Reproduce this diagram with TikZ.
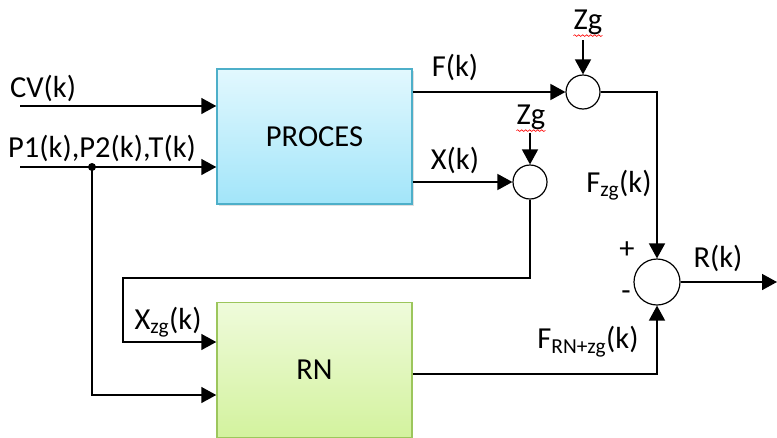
\documentclass[tikz,border=0pt]{standalone}
\usepackage{fontspec}
\setmainfont{Carlito}
\usetikzlibrary{arrows.meta, positioning, shadows, decorations.pathmorphing}

\definecolor{procTop}{HTML}{E2F8FE}
\definecolor{procBot}{HTML}{A2E5F9}
\definecolor{procLine}{HTML}{4DAFC9}
\definecolor{rnTop}{HTML}{EFFBDB}
\definecolor{rnBot}{HTML}{D3F29E}
\definecolor{rnLine}{HTML}{9CC65C}

\begin{document}
\begin{tikzpicture}[
  x=1pt, y=-1pt,
  font=\fontsize{30.5}{36}\selectfont,
  blok/.style={rectangle, line width=1.5pt, minimum width=195pt,
               minimum height=135pt, inner sep=0pt},
  sumnode/.style={circle, draw=black, line width=1.2pt, fill=white,
                  minimum size=34pt, inner sep=0pt},
  arr/.style={-{Triangle[length=15pt, width=16pt]}, line width=1.6pt, black},
  lbl/.style={inner sep=0pt},
  squig/.style={red, line width=0.6pt,
                decorate, decoration={snake, amplitude=0.9pt, segment length=4pt}}
]
\clip (0,0) rectangle (777,437);
%% Blocks
\node[blok, draw=procLine, top color=procTop, bottom color=procBot,
      drop shadow={opacity=0.25, shadow xshift=2pt, shadow yshift=-2pt}]
      (proc) at (314.5,136.5) {PROCES};
\node[blok, draw=rnLine, top color=rnTop, bottom color=rnBot]
      (rn) at (314.5,370) {RN};
%% Summing junctions
\node[sumnode] (s1) at (583,92) {};
\node[sumnode] (s2) at (530,182) {};
\node[sumnode, minimum size=46pt] (s3) at (657,282) {};
%% Free ends
\coordinate (cvin) at (20,106);
\coordinate (pin) at (20,167);
\coordinate (tap) at (92,167);
\coordinate (zg1) at (583,40);
\coordinate (zg2) at (530,133);
\coordinate (rout) at (777,282);
%% Inputs to PROCES
\draw[arr] (cvin) -- (cvin -| proc.west);
\draw[arr] (pin) -- (pin -| proc.west);
\fill (tap) circle (4pt);
\draw[arr] (tap) |- ([yshift=-25pt]rn.west);
%% PROCES outputs
\draw[arr] (s1 -| proc.east) -- (s1);
\draw[arr] (s2 -| proc.east) -- (s2);
\draw[arr] (zg1) -- (s1);
\draw[arr] (zg2) -- (s2);
%% Feedback of X to RN
\draw[arr] (s2.south) |- (123,278) |- ([yshift=28pt]rn.west);
%% To the last junction
\draw[arr] (s1.east) -| (s3.north);
\draw[arr] ([yshift=-4pt]rn.east) -| (s3.south);
\draw[arr] (s3.east) -- (rout);
%% Labels
\node[lbl, anchor=west] (lcv) at (10,88) {CV(k)};
\node[lbl, anchor=west] (lp) at (8,148) {P1(k),P2(k),T(k)};
\node[lbl] (lf) at (455,67) {F(k)};
\node[lbl] (lx) at (455,160) {X(k)};
\node[lbl] (lz1) at (588,22) {Zg};
\node[lbl] (lz2) at (531,117) {Zg};
\node[lbl] (lfzg) at (619,185) {F\textsubscript{zg}(k)};
\node[lbl] (lxzg) at (168,322) {X\textsubscript{zg}(k)};
\node[lbl] (lfrn) at (588,342) {F\textsubscript{RN+zg}(k)};
\node[lbl] (lr) at (718,258) {R(k)};
\node[lbl] (lplus) at (627,250) {+};
\node[lbl] (lmin) at (626,296) {-};
%% Spell-check marks
\draw[squig] ([yshift=-1pt]lz1.south west) -- ([yshift=-1pt]lz1.south east);
\draw[squig] ([yshift=-1pt]lz2.south west) -- ([yshift=-1pt]lz2.south east);
\end{tikzpicture}
\end{document}
